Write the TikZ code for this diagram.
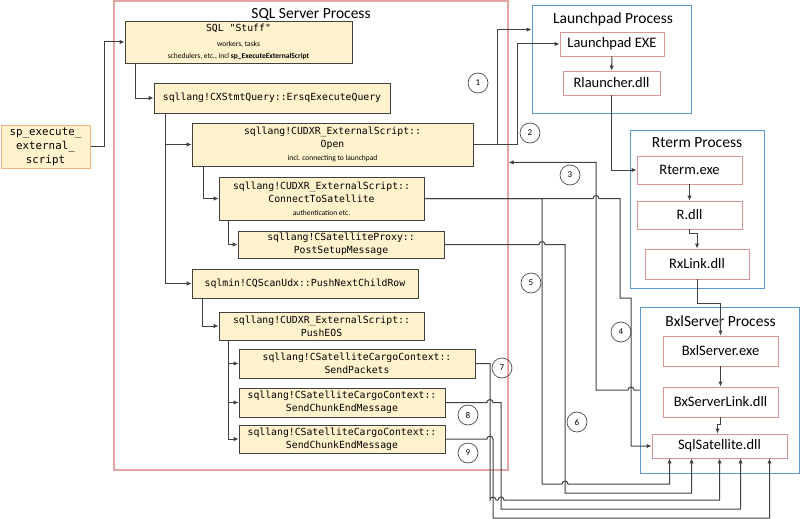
\documentclass[tikz,border=0pt]{standalone}
\usepackage{fontspec}
\setmainfont{Carlito}
\newfontfamily\codefont{DejaVu Sans Mono}
\usetikzlibrary{arrows.meta,calc}
\definecolor{callfill}{HTML}{FFF2CC}
\definecolor{calldraw}{HTML}{404040}
\definecolor{entryline}{HTML}{F4B183}
\definecolor{sqlred}{HTML}{E6A5A5}
\definecolor{procblue}{HTML}{5B9BD5}
\definecolor{modred}{HTML}{D99694}
\newcommand\remark[1]{{\normalfont\fontsize{7.5}{9}\selectfont #1}}
\tikzset{
  call/.style={draw=calldraw,fill=callfill,line width=0.8pt,align=center,inner sep=1pt,
    font=\codefont\fontsize{9.8}{13}\selectfont},
  entry/.style={call,draw=entryline,line width=1pt,font=\codefont\fontsize{10.8}{14}\selectfont},
  sqlproc/.style={draw=sqlred,line width=1.2pt},
  proc/.style={draw=procblue,line width=0.9pt},
  module/.style={draw=modred,line width=0.9pt,fill=white,font=\fontsize{14.5}{16}\selectfont},
  ptitle/.style={font=\fontsize{15.5}{17}\selectfont},
  link/.style={draw=black!75,line width=1pt,-{Latex[length=5pt,width=4.5pt]}},
  num/.style={circle,draw=black!70,line width=0.7pt,minimum size=20pt,inner sep=0pt,
    font=\fontsize{9}{9}\selectfont}
}
\begin{document}
\begin{tikzpicture}[x=1pt,y=-1pt]
\useasboundingbox (0,0) rectangle (800,519);
\node[sqlproc,minimum width=394pt,minimum height=469pt] (sqlproc) at (311,235.5) {};
\node[ptitle] at (311,14) {SQL Server Process};
\node[proc,minimum width=159pt,minimum height=108pt] (lpproc) at (611.5,59) {};
\node[ptitle] at (613,19) {Launchpad Process};
\node[proc,minimum width=134pt,minimum height=158pt] (rtproc) at (697,209) {};
\node[ptitle] at (697,143) {Rterm Process};
\node[proc,minimum width=159pt,minimum height=166pt] (bxproc) at (719.5,390) {};
\node[ptitle] at (720.5,321) {BxlServer Process};

\node[entry,minimum width=89pt,minimum height=43pt] (spx) at (45.5,146.5)
  {sp\_execute\_\\external\_\\script};
\node[call,minimum width=227pt,minimum height=42pt] (stuff) at (238.5,42)
  {SQL "Stuff"\\[2pt] \remark{workers, tasks}\\[-1pt]
   \remark{schedulers, etc., incl \textbf{sp\_ExecuteExternalScript}}};
\node[call,minimum width=236pt,minimum height=30pt] (cxstmt) at (272,98)
  {sqllang!CXStmtQuery::ErsqExecuteQuery};
\node[call,minimum width=281pt,minimum height=43pt] (open) at (332.5,144.5)
  {sqllang!CUDXR\_ExternalScript::\\Open\\ \remark{incl. connecting to launchpad}};
\node[call,minimum width=205pt,minimum height=43pt] (connect) at (321.5,198.5)
  {sqllang!CUDXR\_ExternalScript::\\ConnectToSatellite\\ \remark{authentication etc.}};
\node[call,minimum width=206pt,minimum height=27pt] (postsetup) at (341,244.5)
  {sqllang!CSatelliteProxy::\\PostSetupMessage};
\node[call,minimum width=226pt,minimum height=29pt] (pushrow) at (305,283.5)
  {sqlmin!CQScanUdx::PushNextChildRow};
\node[call,minimum width=205pt,minimum height=28pt] (pusheos) at (321.5,326)
  {sqllang!CUDXR\_ExternalScript::\\PushEOS};
\node[call,minimum width=236pt,minimum height=29pt] (sendpk) at (357,363.5)
  {sqllang!CSatelliteCargoContext::\\SendPackets};
\node[call,minimum width=206pt,minimum height=29pt] (chunka) at (342,402.5)
  {sqllang!CSatelliteCargoContext::\\SendChunkEndMessage};
\node[call,minimum width=206pt,minimum height=28pt] (chunkb) at (342,439)
  {sqllang!CSatelliteCargoContext::\\SendChunkEndMessage};

\node[module,minimum width=104pt,minimum height=24pt] (lpexe) at (612,44) {Launchpad EXE};
\node[module,minimum width=97pt,minimum height=24pt] (rlaunch) at (611.5,83) {Rlauncher.dll};
\node[module,minimum width=105pt,minimum height=28pt] (rtexe) at (689.5,170) {Rterm.exe};
\node[module,minimum width=105pt,minimum height=28pt] (rdll) at (689.5,215) {R.dll};
\node[module,minimum width=104pt,minimum height=30pt] (rxlink) at (697,264) {RxLink.dll};
\node[module,minimum width=115pt,minimum height=30pt] (bxexe) at (720.5,351) {BxlServer.exe};
\node[module,minimum width=115pt,minimum height=30pt] (bxlink) at (720.5,402) {BxServerLink.dll};
\node[module,minimum width=135pt,minimum height=24pt] (sqlsat) at (719.5,446) {SqlSatellite.dll};

\draw[link] (spx.east) -- ++(14,0) |- (stuff.west);
\draw[link] ($(stuff.south west)+(11,0)$) |- (cxstmt.west);
\draw[link] ($(cxstmt.south west)+(12,0)$) |- (open.west);
\draw[link] ($(cxstmt.south west)+(12,0)$) |- (pushrow.west);
\draw[link] ($(open.south west)+(12,0)$) |- (connect.west);
\draw[link] ($(connect.south west)+(10,0)$) |- (postsetup.west);
\draw[link] ($(pushrow.south west)+(11,0)$) |- (pusheos.west);
\foreach \n in {sendpk,chunka,chunkb}
  \draw[link] ($(pusheos.south west)+(10,0)$) |- (\n.west);

\draw[link] (lpexe) -- (rlaunch);
\draw[link] (rlaunch.south) |- (rtexe.west);
\draw[link] (rtexe) -- (rdll);
\draw[link] (rdll.south) -- ++(0,4) -| (rxlink.north);
\draw[link] (rxlink.south) -- ++(0,24) -| (bxexe.north);
\draw[link] (bxexe) -- (bxlink);
\draw[link] (bxlink.south) -- ++(0,7) -| ([xshift=-2pt]sqlsat.north);

\draw[link] (open.east) -- ++(24,0) |- ($(lpproc.north west)+(0,25)$);
\draw[link] (open.east) -- ++(44,0) |- (lpexe.west);
\draw[link] (bxproc.west) -- (634,390) arc(0:180:3pt) -- (596,390) |- ($(sqlproc.north east)+(0,162)$);
\draw[link] (connect.east) -- (593,198.5) arc(180:0:3pt) -- (620,198.5) |- (631,298) |- (sqlsat.west);
\draw[link] (connect.east) -| (542,484) -- (562,484) arc(180:0:3pt) -| ($(sqlsat.south west)+(18,0)$);
\draw[link] (postsetup.east) -- (539,244.5) arc(180:0:3pt) -| (565,493) -| ($(sqlsat.south west)+(40,0)$);
\draw[link] (sendpk.east) -| (490,500) arc(180:0:3pt) -- (498,500) arc(180:0:3pt)
  -| ($(sqlsat.south west)+(68,0)$);
\draw[link] (chunka.east) -- (487,402.5) arc(180:0:3pt) -| (501,509) -| ($(sqlsat.south west)+(89,0)$);
\draw[link] (chunkb.east) -- (487,439) arc(180:0:3pt) -| (493,518) -| ($(sqlsat.south west)+(118,0)$);

\node[num] (n1) at (478,83) {1};
\node[num] (n2) at (530,133) {2};
\node[num] (n3) at (570,175) {3};
\node[num] (n4) at (621,332) {4};
\node[num] (n5) at (531,283) {5};
\node[num] (n6) at (577,422) {6};
\node[num] (n7) at (502,368) {7};
\node[num] (n8) at (468,415) {8};
\node[num] (n9) at (468,453) {9};
\end{tikzpicture}
\end{document}
